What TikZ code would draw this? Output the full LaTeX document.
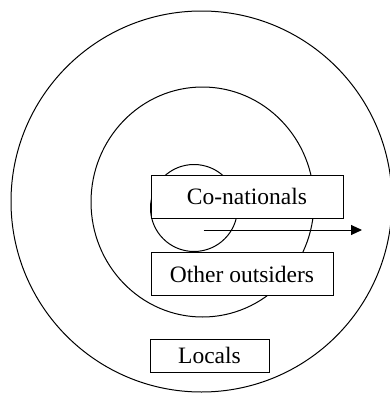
\documentclass[tikz,border=0pt]{standalone}
\usepackage{fontspec}
\setmainfont{Liberation Serif}
\usetikzlibrary{arrows.meta}
\begin{document}
\begin{tikzpicture}[x=1pt,y=-1pt,
  ring/.style={draw=black,line width=1pt},
  labelbox/.style={draw=black,fill=white,line width=1pt,rectangle,inner sep=0pt,
    font=\fontsize{23.5}{26}\selectfont},
  flow/.style={draw=black,line width=1pt,-{Triangle[length=11pt,width=10pt]}}]
\useasboundingbox (0,0) rectangle (390,394);
\fill[white] (0,0) rectangle (390,394);
\draw[ring] (201.5,201.5) circle[radius=190.5];
\draw[ring] (202.5,202) ellipse[x radius=111.5,y radius=115];
\draw[ring] (194,208) circle[radius=43.5];
\node[labelbox,minimum width=192pt,minimum height=43.5pt] (co) at (247,196.75) {Co-nationals};
\node[labelbox,minimum width=182pt,minimum height=43.5pt] (oo) at (242,274) {Other outsiders};
\node[labelbox,minimum width=119pt,minimum height=33pt] (lo) at (209.5,355.75) {Locals};
\coordinate (astart) at (203.5,230);
\coordinate (aend) at (362,230);
\draw[flow] (astart) -- (aend);
\end{tikzpicture}
\end{document}
